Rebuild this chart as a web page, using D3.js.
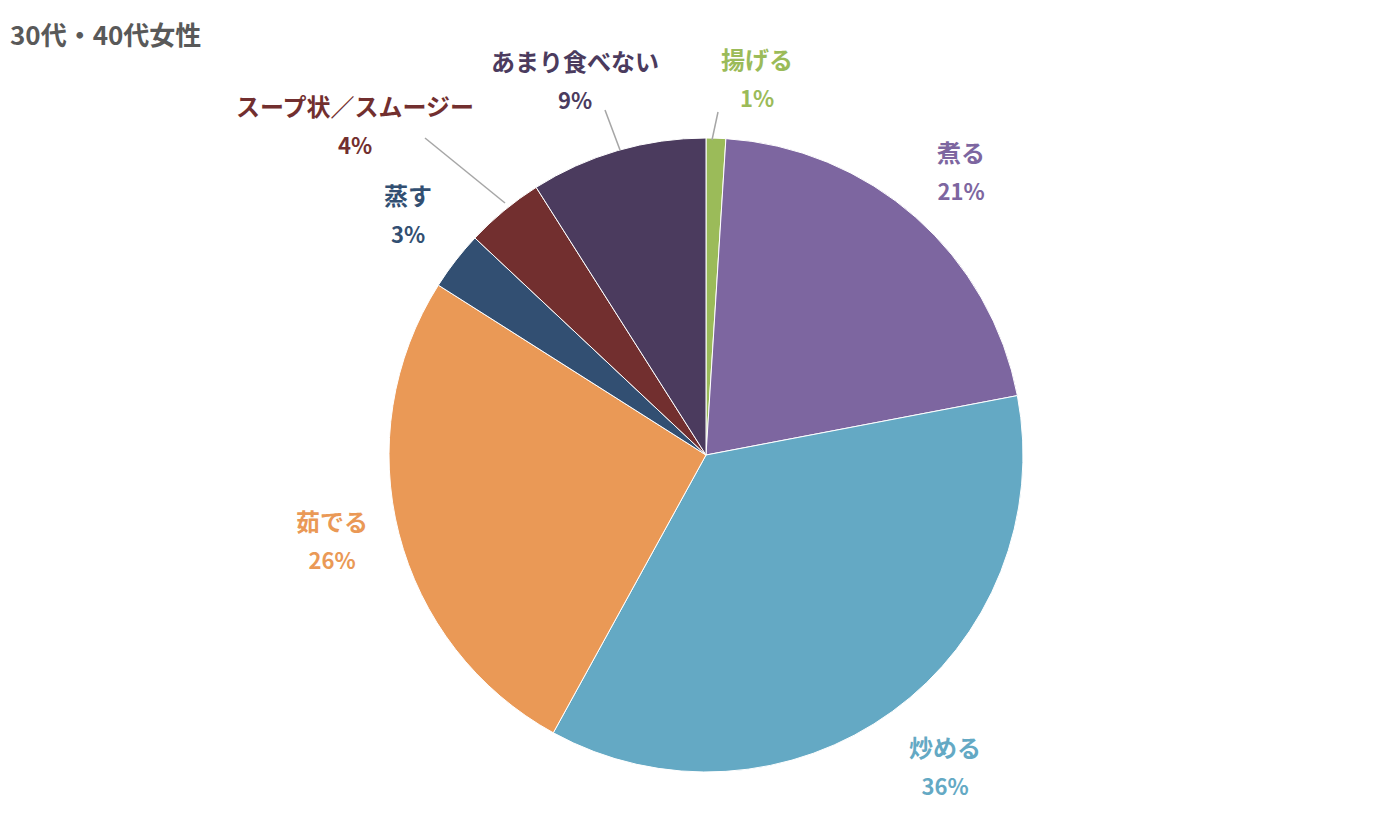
<!DOCTYPE html>
<html>
<head>
<meta charset="utf-8">
<script src="https://cdn.jsdelivr.net/npm/d3@7"></script>
<style>
  body { margin: 0; background: #fff; }
  text { font-family: "Noto Sans CJK JP", "Noto Sans", sans-serif; font-weight: bold; }
</style>
</head>
<body>
<script>
const categories = ["揚げる", "煮る", "炒める", "茹でる", "蒸す", "スープ状／スムージー", "あまり食べない"];
const values = [1, 21, 36, 26, 3, 4, 9];
const colors = ["#9bbb59", "#7d66a0", "#64a9c4", "#ea9956", "#324f72", "#722f2f", "#4b3b5e"];
const textColors = ["#9bbb59", "#7d66a0", "#64a9c4", "#ea9956", "#324f72", "#722f2f", "#4b3b5e"];

// label anchor points (layout)
const labelPos = [[757, 60], [961, 153], [945, 748], [332, 522], [408, 196], [355, 107], [575, 62]];
const leaders = { 0: [[718, 112], [712, 140]], 5: [[425, 138], [505, 203]], 6: [[605, 110], [620, 150]] };

const w = 1400, h = 840;
const cx = 706, cy = 455, r = 317;

const svg = d3.select("body").append("svg").attr("width", w).attr("height", h);

svg.append("text").attr("x", 10).attr("y", 45)
  .attr("font-size", 26).attr("fill", "#595959").text("30代・40代女性");

const pie = d3.pie().sort(null).value(d => d);
const arc = d3.arc().innerRadius(0).outerRadius(r);

const g = svg.append("g").attr("transform", `translate(${cx},${cy})`);
g.selectAll("path").data(pie(values)).enter().append("path")
  .attr("d", arc)
  .attr("fill", (d, i) => colors[i])
  .attr("stroke", "#fff").attr("stroke-width", 1);

Object.keys(leaders).forEach(k => {
  svg.append("polyline")
    .attr("points", leaders[k].map(p => p.join(",")).join(" "))
    .attr("fill", "none").attr("stroke", "#a6a6a6").attr("stroke-width", 1.5);
});

categories.forEach((c, i) => {
  const [x, y] = labelPos[i];
  const t = svg.append("text").attr("text-anchor", "middle")
    .attr("font-size", 24).attr("fill", textColors[i]);
  t.append("tspan").attr("x", x).attr("y", y + 9).text(c);
  t.append("tspan").attr("x", x).attr("y", y + 47).attr("font-size", 22).text(values[i] + "%");
});
</script>
</body>
</html>
